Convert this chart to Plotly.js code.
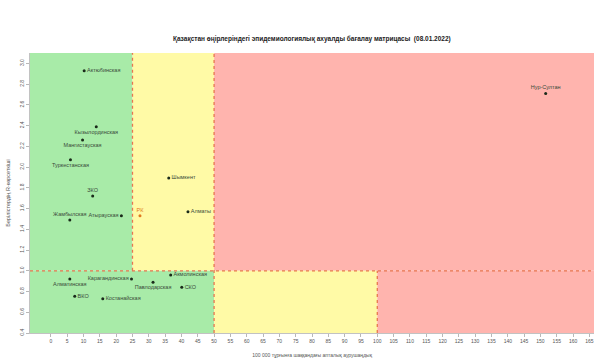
<!DOCTYPE html>
<html>
<head>
<meta charset="utf-8">
<script src="https://cdn.plot.ly/plotly-3.0.1.min.js"></script>
<style>html,body{margin:0;padding:0;background:#fff;}#chart{width:594px;height:360px;}</style>
</head>
<body>
<div id="chart"></div>
<script>
// Regions (Kazakhstan), weekly incidence per 100 000 and R value
const regions = ["Актюбинская","Кызылординская","Мангистауская","Туркестанская","ЗКО","Жамбылская","Атырауская","Шымкент","Алматы","Алматинская","ВКО","Костанайская","Карагандинская","Павлодарская","Акмолинская","СКО","Нур-Султан"];
const incidence = [10.2, 13.9, 9.7, 6.0, 12.8, 5.8, 21.6, 36.1, 42.0, 5.8, 7.3, 15.9, 24.7, 31.3, 36.7, 40.1, 151.6];
const rValue    = [2.93, 2.39, 2.26, 2.07, 1.72, 1.49, 1.53, 1.895, 1.57, 0.92, 0.755, 0.73, 0.92, 0.89, 0.96, 0.84, 2.71];
const labelPos  = ["middle right","bottom center","bottom center","bottom center","top center","top center","middle left","middle right","middle right","bottom center","middle right","middle right","middle left","bottom center","middle right","middle right","top center"];
// National value
const nationalName = ["РК"];
const nationalX = [27.3];
const nationalY = [1.53];

// Thresholds of the matrix
const incLow = 25, incMid = 50, incHigh = 100;
const rThreshold = 1.0;
const xRange = [-6.4, 166.4];
const yRange = [0.4, 3.1];
const xTicks = []; for (let v = 0; v <= 165; v += 5) xTicks.push(v);
const yTicks = [0.4,0.6,0.8,1.0,1.2,1.4,1.6,1.8,2.0,2.2,2.4,2.6,2.8,3.0];

const GREEN = "#a8eba8", YELLOW = "#fffaa6", RED = "#ffb4ae", DASH = "#e8764f";

function rect(x0,x1,y0,y1,c){return {type:"rect",xref:"x",yref:"y",x0:x0,x1:x1,y0:y0,y1:y1,fillcolor:c,line:{width:0},layer:"below"};}
function dline(x0,x1,y0,y1){return {type:"line",xref:"x",yref:"y",x0:x0,x1:x1,y0:y0,y1:y1,line:{color:DASH,width:1.3,dash:"dot"},layer:"below"};}

const shapes = [
  rect(xRange[0], incLow, rThreshold, yRange[1], GREEN),
  rect(incLow, incMid, rThreshold, yRange[1], YELLOW),
  rect(incMid, xRange[1], rThreshold, yRange[1], RED),
  rect(xRange[0], incMid, yRange[0], rThreshold, GREEN),
  rect(incMid, incHigh, yRange[0], rThreshold, YELLOW),
  rect(incHigh, xRange[1], yRange[0], rThreshold, RED),
  dline(incLow, incLow, rThreshold, yRange[1]),
  dline(incMid, incMid, yRange[0], yRange[1]),
  dline(incHigh, incHigh, yRange[0], rThreshold),
  dline(xRange[0], xRange[1], rThreshold, rThreshold)
];

const traces = [
  {type:"scatter",mode:"markers+text",x:incidence,y:rValue,text:regions,textposition:labelPos,
   marker:{color:"#1a2a1a",size:3},textfont:{family:"Liberation Sans, Arial, sans-serif",size:5.5,color:"#3a4a3a"},
   cliponaxis:false,hoverinfo:"text"},
  {type:"scatter",mode:"markers+text",x:nationalX,y:nationalY,text:nationalName,textposition:"top center",
   marker:{color:"#e07a20",size:3},textfont:{family:"Liberation Sans, Arial, sans-serif",size:5.5,color:"#e07a20"},
   cliponaxis:false}
];

const layout = {
  width:594,height:360,
  margin:{l:30,r:0,t:53,b:27},
  paper_bgcolor:"#ffffff",plot_bgcolor:"#ffffff",
  showlegend:false,
  font:{family:"Liberation Sans, Arial, sans-serif",size:5,color:"#555"},
  title:{text:"<b>Қазақстан өңірлеріндегі эпидемиологиялық ахуалды бағалау матрицасы  (08.01.2022)</b>",
         font:{size:6.5,color:"#222"},x:0.525,xanchor:"center",y:0.893,yanchor:"middle"},
  xaxis:{range:xRange,tickvals:xTicks,ticktext:xTicks.map(String),ticks:"outside",ticklen:3,tickwidth:0.6,tickcolor:"#888",
         showgrid:false,zeroline:false,showline:true,linecolor:"#999",linewidth:0.6,
         tickfont:{size:5,color:"#555"},
         title:{text:"100 000 тұрғынға шаққандағы апталық аурушаңдық",font:{size:5,color:"#555"},standoff:10}},
  yaxis:{range:yRange,tickvals:yTicks,ticktext:yTicks.map(v=>v.toFixed(1)),ticks:"outside",ticklen:3,tickwidth:0.6,tickcolor:"#888",
         tickangle:-90,showgrid:false,zeroline:false,showline:true,linecolor:"#999",linewidth:0.6,
         tickfont:{size:5,color:"#555"},
         title:{text:"Берілістердің R-көрсеткіші",font:{size:5.5,color:"#555"},standoff:8}},
  shapes:shapes
};

Plotly.newPlot("chart",traces,layout,{displayModeBar:false,staticPlot:true});
</script>
</body>
</html>
